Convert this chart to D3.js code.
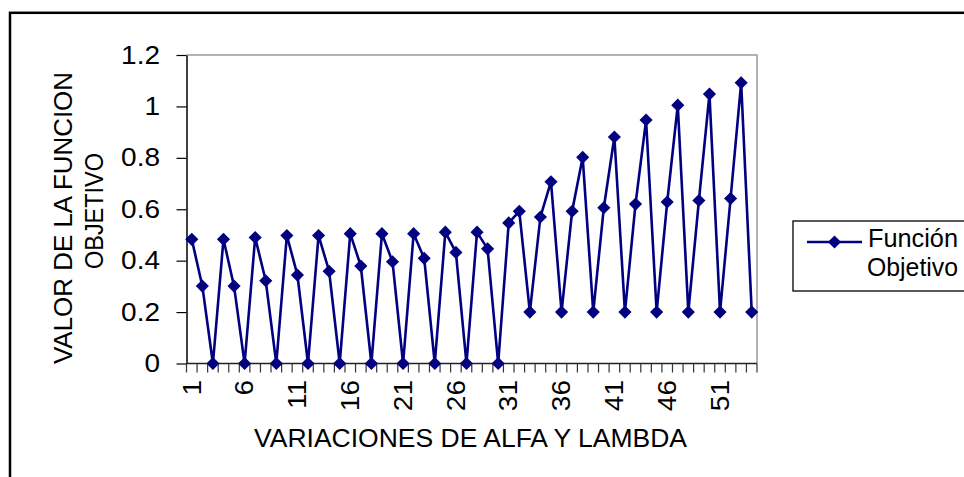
<!DOCTYPE html>
<html>
<head>
<meta charset="utf-8">
<script src="https://cdn.jsdelivr.net/npm/d3@7"></script>
<style>
  html, body { margin: 0; padding: 0; background: #fff; }
  svg { display: block; }
  text { font-family: "Liberation Sans", Arial, sans-serif; fill: #000; }
</style>
</head>
<body>
<svg id="chart" width="964" height="477"></svg>
<script>
// ---- data ----
const categories = d3.range(1, 55);
const values = [
  0.483, 0.301, 0, 0.483, 0.301, 0, 0.490, 0.322, 0, 0.498,
  0.344, 0, 0.498, 0.359, 0, 0.505, 0.379, 0, 0.505, 0.396,
  0, 0.505, 0.409, 0, 0.511, 0.432, 0, 0.511, 0.446, 0,
  0.547, 0.592, 0.200, 0.570, 0.707, 0.200, 0.592, 0.802, 0.200, 0.606,
  0.881, 0.200, 0.620, 0.947, 0.200, 0.628, 1.005, 0.200, 0.634, 1.048,
  0.200, 0.642, 1.092, 0.200
];
const yTickValues = [0, 0.2, 0.4, 0.6, 0.8, 1, 1.2];
const xTickLabels = categories.filter(c => (c - 1) % 5 === 0);
const seriesName = ["Función", "Objetivo"];
const xTitle = "VARIACIONES DE ALFA Y LAMBDA";
const yTitle = ["VALOR DE LA FUNCION", "OBJETIVO"];

// ---- layout ----
const svg = d3.select("#chart");
const plot = { left: 186.5, right: 757, top: 55, bottom: 363.5 };
const navy = "#000080";
const stretch = 1.12;

// outer frame
svg.append("rect")
  .attr("x", 10).attr("y", 12.8).attr("width", 1000).attr("height", 600)
  .attr("fill", "none").attr("stroke", "#000").attr("stroke-width", 2.5);

const x = d3.scaleBand().domain(categories).range([plot.left, plot.right]).padding(0);
const y = d3.scaleLinear().domain([0, 1.2]).range([plot.bottom, plot.top]);
const cx = d => x(d) + x.bandwidth() / 2;

// plot area border (top & right grey)
svg.append("path")
  .attr("d", `M${plot.left},${plot.top}H${plot.right}V${plot.bottom}`)
  .attr("fill", "none").attr("stroke", "#9a9a9a").attr("stroke-width", 1.5);

// y axis
const yAxis = svg.append("g")
  .attr("transform", `translate(${plot.left},0)`)
  .call(d3.axisLeft(y).tickValues(yTickValues).tickFormat(d3.format("~g"))
        .tickSize(10).tickSizeOuter(0).tickPadding(0));
yAxis.select(".domain").attr("stroke", "#000").attr("stroke-width", 1.5);
yAxis.selectAll(".tick line").attr("stroke", "#000").attr("stroke-width", 1.2);
yAxis.selectAll(".tick text")
  .attr("x", -26.5 / stretch)
  .attr("transform", `scale(${stretch},1)`)
  .style("font-size", "25px").attr("fill", "#000");

// x axis: ticks at band boundaries
const xg = svg.append("g");
xg.append("line")
  .attr("x1", plot.left).attr("x2", plot.right)
  .attr("y1", plot.bottom).attr("y2", plot.bottom)
  .attr("stroke", "#222").attr("stroke-width", 1.5);
const boundaries = categories.map(c => x(c)).concat([x(categories[categories.length - 1]) + x.bandwidth()]);
xg.selectAll("line.tk").data(boundaries).join("line")
  .attr("class", "tk")
  .attr("x1", d => d).attr("x2", d => d)
  .attr("y1", plot.bottom).attr("y2", plot.bottom + 9)
  .attr("stroke", "#333").attr("stroke-width", 1.2);
xg.selectAll("text.xl").data(xTickLabels).join("text")
  .attr("class", "xl")
  .attr("transform", d => `translate(${cx(d)},380) rotate(-90) scale(${stretch},1)`)
  .attr("text-anchor", "end")
  .attr("dy", "0.35em")
  .style("font-size", "25px")
  .text(d => d);

// line
const line = d3.line().x((d, i) => cx(categories[i])).y(d => y(d));
svg.append("path")
  .datum(values)
  .attr("d", line)
  .attr("fill", "none").attr("stroke", navy).attr("stroke-width", 2.6)
  .attr("stroke-linejoin", "miter");

// markers
const diamond = d3.symbol().type(d3.symbolDiamond2).size(110);
svg.selectAll("path.mk").data(values).join("path")
  .attr("class", "mk")
  .attr("transform", (d, i) => `translate(${cx(categories[i])},${y(d)})`)
  .attr("d", diamond)
  .attr("fill", navy);

// titles
svg.append("text")
  .attr("x", 470.5).attr("y", 447)
  .attr("text-anchor", "middle")
  .attr("textLength", 433).attr("lengthAdjust", "spacingAndGlyphs")
  .style("font-size", "25px")
  .text(xTitle);

svg.append("text")
  .attr("transform", "translate(72,218) rotate(-90)")
  .attr("text-anchor", "middle")
  .attr("textLength", 292).attr("lengthAdjust", "spacingAndGlyphs")
  .style("font-size", "25px")
  .text(yTitle[0]);
svg.append("text")
  .attr("transform", "translate(103,211) rotate(-90)")
  .attr("text-anchor", "middle")
  .attr("textLength", 116).attr("lengthAdjust", "spacingAndGlyphs")
  .style("font-size", "25px")
  .text(yTitle[1]);

// legend
const lg = svg.append("g");
lg.append("rect")
  .attr("x", 793).attr("y", 221).attr("width", 300).attr("height", 70)
  .attr("fill", "#fff").attr("stroke", "#000").attr("stroke-width", 1.3);
lg.append("line")
  .attr("x1", 807).attr("x2", 862).attr("y1", 242).attr("y2", 242)
  .attr("stroke", navy).attr("stroke-width", 2.4);
lg.append("path")
  .attr("transform", "translate(834.5,242)")
  .attr("d", diamond).attr("fill", navy);
lg.append("text").attr("x", 868).attr("y", 247)
  .attr("textLength", 90).attr("lengthAdjust", "spacingAndGlyphs")
  .style("font-size", "25px").text(seriesName[0]);
lg.append("text").attr("x", 867).attr("y", 276)
  .attr("textLength", 91).attr("lengthAdjust", "spacingAndGlyphs")
  .style("font-size", "25px").text(seriesName[1]);
</script>
</body>
</html>
